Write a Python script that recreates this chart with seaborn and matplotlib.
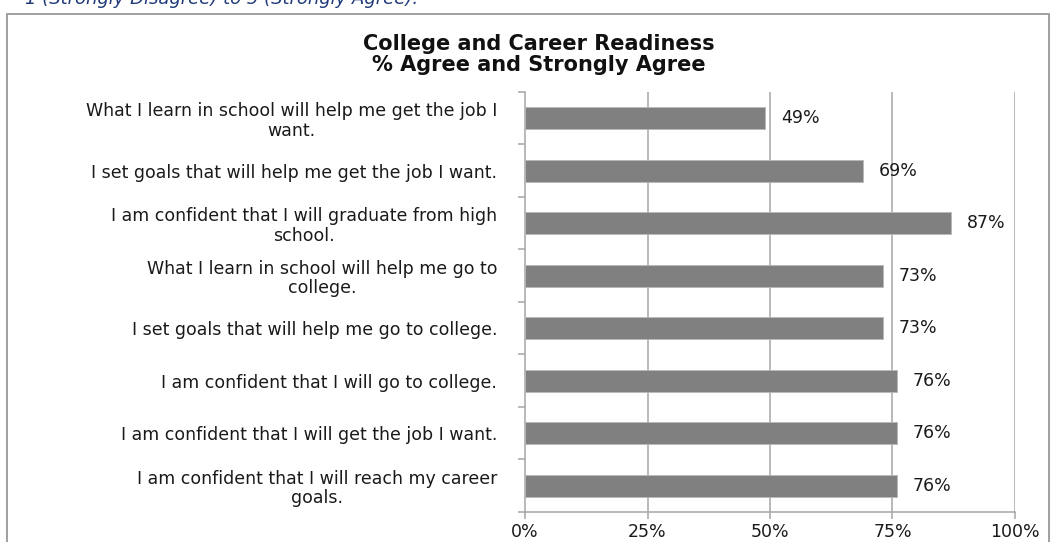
import matplotlib
matplotlib.use("Agg")
import matplotlib.pyplot as plt
from matplotlib.patches import Rectangle
import seaborn as sns
import pandas as pd

# Survey items and share of students who agree or strongly agree
statements = [
    "What I learn in school will help me get the job I\nwant.",
    "I set goals that will help me get the job I want.",
    "I am confident that I will graduate from high\nschool.",
    "What I learn in school will help me go to\ncollege.",
    "I set goals that will help me go to college.",
    "I am confident that I will go to college.",
    "I am confident that I will get the job I want.",
    "I am confident that I will reach my career\ngoals.",
]
pct_agree = [49, 69, 87, 73, 73, 76, 76, 76]
x_ticks = [0, 25, 50, 75, 100]
x_tick_labels = ["0%", "25%", "50%", "75%", "100%"]

df = pd.DataFrame({"statement": statements, "pct": pct_agree})

sns.set_theme(style="white")
plt.rcParams["font.family"] = ["DejaVu Sans"]

TEXT = "#1a1a1a"
GRID = "#a6a6a6"

fig = plt.figure(figsize=(10.53, 5.42), dpi=100)
ax = fig.add_axes([0.4986, 0.0554, 0.4653, 0.7749])

sns.barplot(data=df, x="pct", y="statement", orient="h", color="#808080",
            saturation=1, width=0.42, edgecolor="#b8b8b8", linewidth=0.6,
            ax=ax, zorder=3)

ax.set_xlim(0, 100)
ax.set_ylim(len(statements) - 0.5, -0.5)
ax.set_xticks(x_ticks)
ax.set_xticklabels(x_tick_labels, fontsize=12.5, color=TEXT)
ax.set_xlabel("")
ax.set_ylabel("")

# Vertical gridlines
ax.grid(False)
for v in x_ticks[1:]:
    ax.axvline(v, color=GRID, linewidth=1.1, zorder=1)

for side in ["top", "right"]:
    ax.spines[side].set_visible(False)
for side in ["left", "bottom"]:
    ax.spines[side].set_visible(True)
    ax.spines[side].set_color(GRID)
    ax.spines[side].set_linewidth(1.1)

# Category tick labels, ticks placed on band boundaries
ax.set_yticks(range(len(statements)))
ax.set_yticklabels(statements, fontsize=12.5, color=TEXT,
                   multialignment="center", linespacing=1.1)
ax.tick_params(axis="y", length=0, pad=20)
ax.set_yticks([i - 0.5 for i in range(len(statements) + 1)], minor=True)
ax.tick_params(axis="y", which="minor", left=True, length=5, width=1.1,
               color=GRID, direction="out")
ax.tick_params(axis="x", bottom=True, length=5, width=1.1, color=GRID,
               direction="out", pad=3)

# Value labels
for i, v in enumerate(pct_agree):
    ax.text(v + 3.2, i, f"{v}%", va="center", ha="left", fontsize=12.5,
            color=TEXT)

# Chart title
fig.text(0.512, 1 - 34 / 542,
         "College and Career Readiness\n% Agree and Strongly Agree",
         ha="center", va="top", fontsize=15, fontweight="bold", color="#111111",
         linespacing=1.05)

# Outer chart frame
fig.patches.append(Rectangle((7 / 1053, -0.05), 1042 / 1053, 1.05 - 14 / 542,
                             transform=fig.transFigure, fill=False,
                             edgecolor="#a0a0a0", linewidth=1.4))

# Scale note above the chart
fig.text(25 / 1053, 1 - 4 / 542, "1 (Strongly Disagree) to 5 (Strongly Agree).",
         ha="left", va="baseline", fontsize=13, color="#1f3a7a", style="italic")

fig.savefig("out.png", dpi=100)
